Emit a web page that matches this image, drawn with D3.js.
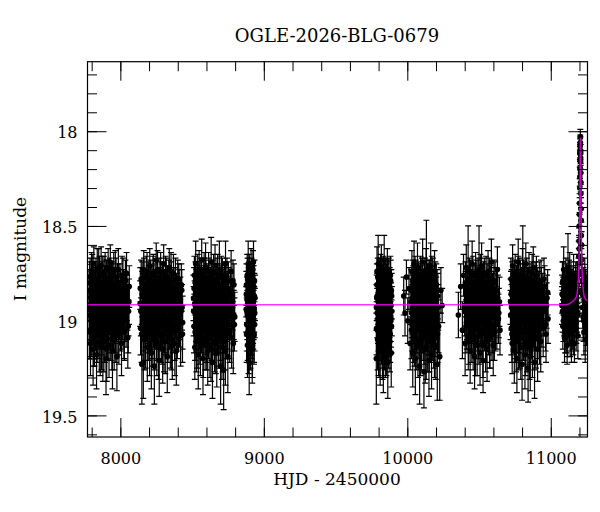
<!DOCTYPE html>
<html lang="en">
<head>
<meta charset="utf-8">
<title>OGLE-2026-BLG-0679</title>
<script src="https://d3js.org/d3.v7.min.js"></script>
<style>
    body { margin: 0; background: #fff; }
    svg text { font-family: "DejaVu Serif", serif; fill: #000; }
    .axis path { display: none; }
    .axis line { stroke: #000; }
</style>
</head>
<body>
<script>
// photometry, one array per observing season: [HJD - 2450000, I mag, error]
var season1 = [[7782,18.84,0.11],[7784,19.06,0.14],[7787,18.93,0.12],[7789,18.77,0.10],[7792,19.12,0.17],[7794,18.88,0.12],[7797,18.99,0.13],[7799,18.74,0.10],[7802,19.03,0.15],[7805,18.91,0.11],[7807,18.81,0.12],[7810,19.15,0.19],[7812,18.96,0.13],[7815,18.70,0.09],[7818,18.87,0.12],[7820,19.08,0.16],[7823,18.93,0.12],[7826,18.79,0.10],[7828,19.01,0.14],[7831,18.85,0.11],[7834,19.18,0.18],[7836,18.95,0.13],[7839,18.73,0.11],[7842,18.90,0.12],[7844,19.05,0.15],[7847,18.83,0.10],[7850,18.98,0.14],[7853,19.11,0.16],[7855,18.76,0.10],[7858,18.92,0.12],[7861,19.02,0.13],[7864,18.86,0.12],[7866,18.71,0.10],[7869,19.09,0.17],[7872,18.94,0.12],[7875,18.80,0.11],[7878,19.14,0.18],[7880,18.89,0.12],[7883,19.00,0.14],[7886,18.75,0.09],[7889,18.97,0.13],[7892,19.07,0.15],[7895,18.82,0.11],[7897,18.91,0.12],[7900,19.20,0.19],[7903,18.78,0.10],[7906,18.95,0.12],[7909,19.04,0.16],[7912,18.88,0.11],[7915,18.72,0.10],[7918,18.99,0.14],[7921,19.13,0.17],[7924,18.84,0.12],[7927,18.93,0.12],[7930,18.69,0.09],[7933,19.06,0.15],[7936,18.90,0.13],[7939,18.81,0.11],[7942,19.01,0.14],[7945,19.16,0.20],[7948,18.87,0.12],[7951,18.96,0.13],[7954,18.74,0.10],[7957,19.10,0.16],[7960,18.92,0.12],[7963,18.83,0.11],[7966,19.03,0.14],[7970,18.77,0.10],[7973,18.98,0.13],[7976,19.19,0.18],[7979,18.86,0.12],[7983,18.94,0.12],[7986,18.73,0.11],[7990,19.08,0.15],[7993,18.91,0.12],[7997,18.80,0.10],[8001,19.02,0.14],[8005,18.89,0.12],[8008,19.12,0.17],[8012,18.76,0.10],[8016,18.97,0.13],[8020,18.85,0.12],[8025,19.05,0.15],[8030,18.93,0.12],[8035,18.79,0.11],[8040,19.00,0.14],[8046,18.88,0.12],[8052,19.09,0.16],[8057,18.95,0.13],[8062,18.82,0.11],
    [7783,18.97,0.13],[7786,18.80,0.11],[7791,18.92,0.12],[7796,19.05,0.14],[7801,18.86,0.12],[7804,18.75,0.10],[7809,18.99,0.13],[7814,19.09,0.15],[7817,18.83,0.11],[7822,18.94,0.12],[7825,19.02,0.14],[7830,18.78,0.11],[7833,18.91,0.12],[7838,19.07,0.15],[7841,18.85,0.11],[7846,18.96,0.13],[7849,18.72,0.10],[7852,19.00,0.14],[7857,18.88,0.12],[7860,19.13,0.16],[7863,18.81,0.11],[7868,18.93,0.12],[7871,19.04,0.14],[7874,18.76,0.10],[7877,18.98,0.13],[7882,18.87,0.12],[7885,19.11,0.16],[7888,18.82,0.11],[7891,18.95,0.12],[7894,18.74,0.10],[7899,19.01,0.14],[7902,18.90,0.12],[7905,19.15,0.17],[7908,18.79,0.11],[7911,18.97,0.13],[7914,19.06,0.15],[7917,18.84,0.11],[7920,18.92,0.12],[7926,18.77,0.10],[7929,19.03,0.14],[7932,18.89,0.12],[7938,18.96,0.13],[7941,19.10,0.16],[7944,18.80,0.11],[7950,18.93,0.12],[7953,19.02,0.14],[7956,18.86,0.12],[7962,18.99,0.13],[7965,18.73,0.10],[7968,19.07,0.15],[7972,18.88,0.12],[7978,18.95,0.13],[7981,18.81,0.11],[7985,19.04,0.14],[7988,18.91,0.12],[7995,18.97,0.13],[7999,18.84,0.11],[8003,18.94,0.12],[8010,19.01,0.14],[8014,18.87,0.12],[8018,18.78,0.11],[8023,18.92,0.12],[8028,19.06,0.15],[8033,18.86,0.12],[8038,18.98,0.13],[8043,18.75,0.11],[8049,18.93,0.12],[8055,19.03,0.14],[8060,18.90,0.12]];
var season2 = [[8138,18.91,0.12],[8141,19.04,0.14],[8145,18.78,0.10],[8150,19.23,0.21],[8153,18.86,0.12],[8157,18.97,0.13],[8160,19.22,0.19],[8163,18.73,0.10],[8167,18.92,0.12],[8170,19.10,0.16],[8174,18.84,0.11],[8177,19.00,0.14],[8181,18.76,0.10],[8184,18.95,0.13],[8188,19.14,0.18],[8191,18.89,0.12],[8195,18.80,0.11],[8198,19.06,0.15],[8202,18.93,0.12],[8205,18.71,0.09],[8209,19.02,0.14],[8212,18.87,0.12],[8216,19.17,0.19],[8219,18.82,0.11],[8223,18.98,0.13],[8226,19.08,0.16],[8230,18.75,0.10],[8233,18.94,0.12],[8237,19.24,0.20],[8240,18.85,0.12],[8243,19.01,0.14],[8247,18.90,0.12],[8250,18.68,0.09],[8254,19.12,0.17],[8257,18.96,0.13],[8260,18.79,0.10],[8264,19.05,0.15],[8267,18.88,0.12],[8271,19.21,0.19],[8274,18.83,0.11],[8278,18.99,0.14],[8281,18.74,0.10],[8285,19.07,0.15],[8288,18.92,0.12],[8292,18.81,0.11],[8295,19.15,0.18],[8299,18.95,0.13],[8302,18.70,0.10],[8306,19.03,0.14],[8309,18.86,0.12],[8313,19.11,0.17],[8316,18.93,0.12],[8320,18.77,0.10],[8323,18.98,0.13],[8327,19.19,0.19],[8330,18.84,0.11],[8334,18.91,0.12],[8337,19.04,0.15],[8341,18.72,0.10],[8344,18.97,0.13],[8348,19.09,0.16],[8351,18.89,0.12],[8355,18.80,0.11],[8358,19.00,0.14],[8362,19.13,0.18],[8366,18.87,0.12],[8370,18.75,0.10],[8374,18.94,0.12],[8378,19.06,0.15],[8382,18.83,0.11],[8386,18.96,0.13],[8390,19.16,0.18],[8395,18.90,0.12],[8400,18.78,0.10],[8405,19.02,0.14],[8410,18.85,0.12],[8415,18.97,0.13],[8420,19.08,0.16],[8425,18.81,0.11],[8430,18.93,0.12],[8434,19.01,0.14],
    [8139,18.83,0.11],[8143,18.95,0.13],[8148,19.07,0.15],[8152,18.80,0.11],[8155,18.93,0.12],[8159,18.87,0.12],[8162,19.02,0.14],[8165,18.77,0.10],[8169,18.98,0.13],[8172,18.90,0.12],[8176,19.09,0.16],[8179,18.85,0.11],[8183,18.96,0.13],[8186,18.74,0.10],[8190,19.03,0.14],[8193,18.92,0.12],[8197,18.82,0.11],[8200,18.99,0.13],[8204,19.12,0.17],[8207,18.88,0.12],[8211,18.79,0.11],[8214,18.94,0.12],[8218,19.05,0.15],[8221,18.86,0.12],[8225,18.91,0.12],[8228,18.76,0.10],[8232,19.00,0.14],[8235,18.89,0.12],[8239,19.10,0.16],[8242,18.81,0.11],[8245,18.97,0.13],[8249,18.84,0.11],[8252,19.06,0.15],[8256,18.93,0.12],[8259,18.73,0.10],[8262,18.98,0.13],[8266,19.14,0.17],[8269,18.87,0.12],[8273,18.95,0.13],[8276,18.78,0.11],[8280,19.02,0.14],[8283,18.90,0.12],[8287,18.84,0.11],[8290,19.08,0.15],[8294,18.92,0.12],[8297,18.80,0.11],[8301,18.97,0.13],[8304,19.11,0.16],[8308,18.85,0.12],[8311,18.94,0.12],[8315,18.76,0.10],[8318,19.04,0.14],[8322,18.89,0.12],[8325,18.99,0.13],[8329,18.82,0.11],[8332,19.07,0.15],[8336,18.93,0.12],[8339,18.79,0.11],[8343,19.01,0.14],[8346,18.88,0.12],[8350,18.96,0.13],[8353,18.74,0.10],[8357,19.10,0.16],[8360,18.86,0.12],[8364,18.95,0.13],[8368,19.03,0.14],[8372,18.83,0.11],[8376,18.91,0.12],[8380,19.12,0.17],[8384,18.78,0.11],[8388,18.97,0.13],[8392,18.87,0.12],[8397,19.05,0.15],[8402,18.92,0.12],[8407,18.81,0.11],[8412,19.00,0.14],[8418,18.89,0.12],[8423,18.95,0.13],[8428,18.84,0.11],[8433,19.07,0.15]];
var season3 = [[8510,18.88,0.12],[8513,19.03,0.14],[8516,18.76,0.10],[8519,19.14,0.17],[8522,18.92,0.12],[8525,18.70,0.12],[8528,18.98,0.13],[8531,18.84,0.11],[8534,19.09,0.16],[8537,18.79,0.10],[8540,18.95,0.13],[8543,19.18,0.18],[8546,18.87,0.12],[8549,18.73,0.10],[8552,19.01,0.14],[8555,18.90,0.12],[8558,19.12,0.17],[8561,18.82,0.11],[8564,18.96,0.13],[8567,18.68,0.11],[8570,19.05,0.15],[8573,18.86,0.12],[8576,19.20,0.19],[8579,18.93,0.12],[8582,18.77,0.10],[8585,19.00,0.14],[8588,18.85,0.11],[8591,19.10,0.16],[8594,18.72,0.13],[8597,18.94,0.12],[8600,19.07,0.15],[8603,18.81,0.11],[8606,18.99,0.13],[8609,19.16,0.18],[8612,18.89,0.12],[8615,18.74,0.10],[8618,19.02,0.14],[8621,18.91,0.12],[8624,19.13,0.17],[8627,18.83,0.11],[8630,18.97,0.13],[8633,18.69,0.13],[8636,19.06,0.15],[8639,18.87,0.12],[8642,19.22,0.19],[8645,18.78,0.10],[8648,18.95,0.13],[8651,19.04,0.14],[8654,18.84,0.11],[8657,19.11,0.16],[8660,18.71,0.11],[8663,18.93,0.12],[8666,19.01,0.14],[8669,18.80,0.10],[8672,19.17,0.18],[8675,18.90,0.12],[8678,18.75,0.10],[8681,18.98,0.13],[8684,19.08,0.16],[8687,18.86,0.12],[8690,18.73,0.15],[8693,19.03,0.14],[8696,18.92,0.12],[8699,19.24,0.20],[8702,18.82,0.11],[8705,18.96,0.13],[8708,19.14,0.17],[8711,18.77,0.10],[8714,19.00,0.14],[8717,18.88,0.12],[8720,19.26,0.21],[8723,18.83,0.11],[8726,18.95,0.13],[8730,19.10,0.16],[8733,18.70,0.12],[8737,18.91,0.12],[8741,19.05,0.15],[8745,18.85,0.11],[8749,19.19,0.19],[8753,18.79,0.10],[8757,18.97,0.13],[8762,19.07,0.15],[8767,18.87,0.12],[8772,18.74,0.11],[8777,19.02,0.14],[8782,18.93,0.12],[8787,19.12,0.16],[8792,18.81,0.11],[8797,18.98,0.13],
    [8511,18.95,0.13],[8514,18.83,0.11],[8518,18.91,0.12],[8521,19.06,0.15],[8524,18.80,0.11],[8527,18.93,0.12],[8530,19.11,0.16],[8533,18.87,0.12],[8536,18.97,0.13],[8539,18.75,0.10],[8542,19.02,0.14],[8545,18.89,0.12],[8548,18.81,0.11],[8551,18.95,0.13],[8554,19.08,0.15],[8557,18.85,0.12],[8560,18.92,0.12],[8563,18.78,0.11],[8566,19.03,0.14],[8569,18.90,0.12],[8572,18.98,0.13],[8575,18.83,0.11],[8578,19.13,0.17],[8581,18.88,0.12],[8584,18.74,0.10],[8587,18.96,0.13],[8590,19.04,0.14],[8593,18.86,0.12],[8596,18.79,0.11],[8599,18.99,0.13],[8602,19.10,0.16],[8605,18.91,0.12],[8608,18.82,0.11],[8611,18.94,0.12],[8614,19.05,0.15],[8617,18.77,0.10],[8620,18.97,0.13],[8623,18.88,0.12],[8626,19.00,0.14],[8629,18.84,0.11],[8632,19.15,0.17],[8635,18.93,0.12],[8638,18.80,0.11],[8641,18.96,0.13],[8644,19.07,0.15],[8647,18.87,0.12],[8650,18.75,0.10],[8653,18.92,0.12],[8656,19.02,0.14],[8659,18.85,0.12],[8662,18.98,0.13],[8665,19.12,0.16],[8668,18.83,0.11],[8671,18.94,0.12],[8674,18.78,0.11],[8677,19.04,0.14],[8680,18.90,0.12],[8683,18.97,0.13],[8686,19.09,0.16],[8689,18.81,0.11],[8692,18.95,0.13],[8695,18.86,0.12],[8698,19.06,0.15],[8701,18.92,0.12],[8704,18.76,0.10],[8707,18.99,0.13],[8710,18.89,0.12],[8713,19.11,0.16],[8716,18.84,0.11],[8719,18.96,0.13],[8722,19.03,0.14],[8725,18.80,0.11],[8728,18.93,0.12],[8732,19.16,0.18],[8735,18.87,0.12],[8739,18.98,0.13],[8743,18.77,0.10],[8747,19.01,0.14],[8751,18.91,0.12],[8755,18.83,0.11],[8760,19.05,0.15],[8765,18.94,0.12],[8770,18.86,0.12],[8775,19.09,0.16],[8780,18.90,0.12],[8785,18.79,0.11],[8790,18.97,0.13],[8795,19.02,0.14]];
var season4 = [[8878,18.86,0.12],[8880,19.07,0.15],[8882,18.95,0.13],[8884,18.76,0.11],[8886,19.13,0.17],[8889,18.91,0.12],[8891,18.70,0.12],[8893,19.02,0.14],[8896,18.84,0.11],[8898,19.22,0.17],[8900,18.97,0.13],[8903,18.80,0.11],[8905,19.10,0.16],[8908,18.89,0.12],[8911,18.74,0.12],[8913,19.04,0.14],[8916,18.93,0.12],[8919,19.15,0.18],[8922,18.82,0.11],[8925,18.99,0.13],[8928,18.69,0.11],[8931,19.08,0.15],[8934,18.87,0.12],[8937,18.96,0.13],
    [8877,18.94,0.12],[8879,18.81,0.11],[8881,19.02,0.14],[8883,18.89,0.12],[8885,18.97,0.13],[8887,18.78,0.11],[8888,19.06,0.15],[8890,18.86,0.12],[8892,18.95,0.13],[8894,19.12,0.16],[8895,18.83,0.11],[8897,18.92,0.12],[8899,18.75,0.10],[8901,19.03,0.14],[8902,18.88,0.12],[8904,18.98,0.13],[8906,18.80,0.11],[8907,19.09,0.16],[8909,18.93,0.12],[8910,18.85,0.12],[8912,19.00,0.14],[8914,18.77,0.10],[8915,18.96,0.13],[8917,19.05,0.15],[8918,18.84,0.11],[8920,18.91,0.12],[8921,19.13,0.17],[8923,18.87,0.12],[8924,18.73,0.10],[8926,19.01,0.14],[8927,18.90,0.12],[8929,18.97,0.13],[8930,18.82,0.11],[8932,19.07,0.15],[8933,18.94,0.12],[8935,18.79,0.11],[8936,19.02,0.14],[8938,18.88,0.12]];
var season5 = [[9784,19.20,0.24],[9787,18.88,0.12],[9789,18.74,0.13],[9792,19.05,0.15],[9795,18.93,0.12],[9797,18.70,0.15],[9800,19.12,0.17],[9803,18.84,0.11],[9806,18.99,0.13],[9808,18.78,0.11],[9811,19.16,0.18],[9814,18.91,0.12],[9817,19.03,0.14],[9819,18.72,0.12],[9822,18.86,0.12],[9825,19.09,0.16],[9828,18.95,0.13],[9830,18.81,0.11],[9833,19.19,0.19],[9836,18.89,0.12],[9839,18.68,0.13],[9841,19.01,0.14],[9844,18.92,0.12],[9847,19.13,0.17],[9850,18.79,0.11],[9853,18.97,0.13],[9856,19.07,0.15],[9858,18.85,0.12],[9861,18.73,0.11],[9864,19.22,0.19],[9867,18.94,0.12],[9870,18.83,0.11],[9873,19.04,0.15],[9876,18.90,0.12],[9879,19.11,0.16],[9882,18.76,0.10],[9885,18.98,0.13],[9888,19.17,0.18],[9891,18.87,0.12],
    [9785,18.93,0.12],[9786,19.04,0.14],[9788,18.81,0.11],[9790,18.96,0.13],[9791,18.87,0.12],[9793,19.10,0.16],[9794,18.77,0.10],[9796,18.99,0.13],[9798,18.90,0.12],[9799,19.02,0.14],[9801,18.84,0.11],[9802,18.95,0.13],[9804,19.13,0.17],[9805,18.79,0.11],[9807,18.92,0.12],[9809,19.06,0.15],[9810,18.86,0.12],[9812,18.97,0.13],[9813,18.75,0.10],[9815,19.00,0.14],[9816,18.89,0.12],[9818,18.82,0.11],[9820,19.08,0.15],[9821,18.94,0.12],[9823,18.80,0.11],[9824,18.98,0.13],[9826,18.88,0.12],[9827,19.14,0.17],[9829,18.91,0.12],[9831,19.01,0.14],[9832,18.85,0.12],[9834,18.76,0.10],[9835,18.96,0.13],[9837,19.05,0.15],[9838,18.83,0.11],[9840,18.93,0.12],[9842,19.10,0.16],[9843,18.87,0.12],[9845,18.78,0.11],[9846,18.99,0.13],[9848,18.90,0.12],[9849,19.03,0.14],[9851,18.84,0.11],[9852,18.95,0.13],[9854,19.12,0.17],[9855,18.81,0.11],[9857,18.92,0.12],[9859,19.06,0.15],[9860,18.88,0.12],[9862,18.97,0.13],[9863,18.80,0.11],[9865,19.01,0.14],[9866,18.86,0.12],[9868,19.09,0.16],[9869,18.94,0.12],[9871,18.77,0.10],[9872,18.98,0.13],[9874,18.89,0.12],[9875,19.04,0.14],[9877,18.83,0.11],[9878,18.96,0.13],[9880,18.91,0.12],[9881,19.07,0.15],[9883,18.85,0.12],[9884,18.79,0.11],[9886,19.00,0.14],[9887,18.92,0.12],[9889,18.84,0.11],[9890,19.03,0.14],[9892,18.95,0.13]];
var season6 = [[9975,18.87,0.10],[9984,18.96,0.12],[9994,18.77,0.09],[10003,19.00,0.12],[10012,18.83,0.11],[10020,19.12,0.14],[10026,18.90,0.12],[10029,19.05,0.15],[10032,18.74,0.11],[10035,18.94,0.13],[10038,19.17,0.18],[10041,18.82,0.11],[10044,18.99,0.13],[10047,18.70,0.12],[10050,19.08,0.16],[10053,18.88,0.12],[10056,19.20,0.19],[10059,18.79,0.11],[10062,18.96,0.13],[10065,19.03,0.14],[10068,18.85,0.12],[10071,18.72,0.13],[10074,19.13,0.17],[10077,18.92,0.12],[10080,18.81,0.11],[10083,19.01,0.14],[10086,19.24,0.20],[10089,18.87,0.12],[10092,18.76,0.10],[10095,18.97,0.13],[10098,19.10,0.16],[10101,18.84,0.11],[10104,18.93,0.12],[10107,18.69,0.12],[10110,19.06,0.15],[10113,18.89,0.12],[10116,19.27,0.19],[10119,18.80,0.11],[10122,18.95,0.13],[10125,19.15,0.18],[10128,18.86,0.12],[10131,18.73,0.11],[10133,18.75,0.28],[10136,19.02,0.14],[10139,18.91,0.12],[10142,19.11,0.16],[10145,18.78,0.10],[10148,18.98,0.13],[10151,19.21,0.19],[10154,18.83,0.11],[10157,18.94,0.12],[10160,19.07,0.15],[10163,18.71,0.12],[10166,18.90,0.12],[10169,19.18,0.18],[10172,18.85,0.11],[10175,19.00,0.14],[10178,18.77,0.10],[10181,18.96,0.13],[10184,19.09,0.16],[10187,18.88,0.12],[10190,18.74,0.11],[10193,19.04,0.15],[10196,18.92,0.12],[10199,19.14,0.17],[10202,18.81,0.11],[10205,18.97,0.13],[10209,19.23,0.19],[10213,18.87,0.12],[10218,19.03,0.14],[10226,19.19,0.23],[10234,18.84,0.12],[10243,18.92,0.09],
    [10027,18.84,0.11],[10030,18.96,0.13],[10033,19.02,0.14],[10036,18.88,0.12],[10039,18.79,0.11],[10042,18.93,0.12],[10045,19.07,0.15],[10048,18.86,0.12],[10051,18.97,0.13],[10054,18.76,0.10],[10057,19.01,0.14],[10060,18.91,0.12],[10063,18.83,0.11],[10066,19.10,0.16],[10069,18.94,0.12],[10072,18.87,0.12],[10075,18.99,0.13],[10078,18.80,0.11],[10081,19.05,0.15],[10084,18.92,0.12],[10087,18.85,0.12],[10090,18.98,0.13],[10093,19.12,0.17],[10096,18.82,0.11],[10099,18.95,0.13],[10102,18.78,0.11],[10105,19.03,0.14],[10108,18.89,0.12],[10111,18.96,0.13],[10114,18.84,0.11],[10117,19.08,0.15],[10120,18.93,0.12],[10123,18.77,0.10],[10126,19.00,0.14],[10129,18.90,0.12],[10132,19.14,0.17],[10135,18.86,0.12],[10138,18.97,0.13],[10141,18.81,0.11],[10144,19.04,0.14],[10147,18.92,0.12],[10150,18.88,0.12],[10153,19.11,0.16],[10156,18.79,0.11],[10159,18.98,0.13],[10162,18.85,0.12],[10165,19.02,0.14],[10168,18.94,0.12],[10171,18.76,0.10],[10174,18.91,0.12],[10177,19.06,0.15],[10180,18.87,0.12],[10183,18.99,0.13],[10186,18.82,0.11],[10189,19.13,0.17],[10192,18.95,0.13],[10195,18.80,0.11],[10198,19.01,0.14],[10201,18.89,0.12],[10204,18.96,0.13],[10207,18.84,0.11],[10211,19.07,0.15],[10215,18.93,0.12]];
var season7 = [[10356,18.97,0.12],[10372,18.82,0.12],[10384,19.05,0.15],[10392,18.76,0.11],[10398,18.93,0.12],[10403,19.12,0.17],[10407,18.86,0.12],[10411,18.72,0.12],[10415,19.01,0.14],[10419,18.90,0.12],[10424,18.74,0.24],[10427,19.08,0.15],[10431,18.84,0.11],[10434,18.97,0.13],[10438,19.16,0.17],[10441,18.79,0.11],[10445,18.94,0.12],[10448,19.03,0.14],[10452,18.70,0.12],[10455,18.88,0.12],[10459,19.10,0.16],[10462,18.95,0.13],[10466,18.81,0.11],[10469,19.19,0.17],[10473,18.91,0.12],[10476,18.75,0.11],[10480,19.00,0.14],[10483,18.86,0.12],[10487,19.13,0.16],[10490,18.92,0.12],[10494,18.77,0.10],[10497,19.05,0.15],[10500,18.73,0.23],[10504,18.96,0.13],[10507,19.17,0.17],[10511,18.83,0.11],[10514,18.99,0.13],[10518,18.71,0.12],[10521,19.07,0.15],[10525,18.89,0.12],[10528,19.21,0.17],[10532,18.80,0.11],[10535,18.94,0.12],[10539,19.02,0.14],[10542,18.85,0.11],[10546,19.11,0.16],[10549,18.76,0.10],[10553,18.97,0.13],[10556,19.15,0.17],[10560,18.88,0.12],[10563,18.74,0.11],[10567,19.04,0.14],[10570,18.91,0.12],[10574,19.09,0.16],[10578,18.82,0.11],[10582,18.98,0.13],[10586,18.69,0.12],[10590,19.06,0.15],[10594,18.87,0.12],[10599,19.13,0.16],[10604,18.79,0.11],[10609,18.95,0.13],[10615,19.02,0.14],[10621,18.84,0.12],[10628,18.73,0.12],[10635,18.99,0.13],[10642,18.90,0.13],[10646,19.05,0.13],
    [10400,18.95,0.13],[10405,18.80,0.11],[10409,19.03,0.14],[10413,18.89,0.12],[10417,18.97,0.13],[10421,18.83,0.11],[10425,19.10,0.16],[10429,18.92,0.12],[10433,18.78,0.11],[10436,19.01,0.14],[10440,18.87,0.12],[10443,18.99,0.13],[10447,18.84,0.11],[10450,19.07,0.15],[10454,18.94,0.12],[10457,18.76,0.10],[10461,18.90,0.12],[10464,19.04,0.14],[10468,18.86,0.12],[10471,18.97,0.13],[10475,19.12,0.17],[10478,18.82,0.11],[10482,18.93,0.12],[10485,18.79,0.11],[10489,19.02,0.14],[10492,18.88,0.12],[10496,18.96,0.13],[10499,19.08,0.15],[10502,18.85,0.12],[10506,18.92,0.12],[10509,18.75,0.10],[10513,19.05,0.15],[10516,18.90,0.12],[10520,18.98,0.13],[10523,18.83,0.11],[10527,19.13,0.17],[10530,18.94,0.12],[10534,18.87,0.12],[10537,18.77,0.10],[10541,19.00,0.14],[10544,18.91,0.12],[10548,18.96,0.13],[10551,19.07,0.15],[10555,18.81,0.11],[10558,18.93,0.12],[10562,19.02,0.14],[10565,18.86,0.12],[10569,18.97,0.13],[10572,18.78,0.11],[10576,19.09,0.16],[10580,18.89,0.12],[10584,18.95,0.13],[10588,18.83,0.11],[10592,19.03,0.14],[10597,18.92,0.12],[10602,18.86,0.12],[10607,19.06,0.15],[10612,18.80,0.11],[10618,18.94,0.12],[10624,19.01,0.14],[10631,18.88,0.12],[10638,18.96,0.13]];
var season8 = [[10719,18.90,0.12],[10722,18.78,0.11],[10725,19.04,0.14],[10728,18.85,0.12],[10731,19.12,0.16],[10734,18.71,0.11],[10737,18.95,0.13],[10740,19.01,0.14],[10743,18.82,0.11],[10746,19.16,0.17],[10749,18.92,0.12],[10752,18.75,0.10],[10755,19.07,0.15],[10758,18.87,0.12],[10761,18.98,0.13],[10764,19.20,0.18],[10767,18.80,0.11],[10770,18.93,0.12],[10773,18.69,0.12],[10776,19.10,0.16],[10779,18.86,0.12],[10782,19.03,0.14],[10785,18.77,0.10],[10788,18.96,0.13],[10791,19.14,0.17],[10794,18.84,0.11],[10797,18.91,0.12],[10800,19.23,0.19],[10803,18.73,0.11],[10805,18.76,0.26],[10808,18.99,0.13],[10811,19.06,0.15],[10814,18.88,0.12],[10817,18.81,0.11],[10820,19.18,0.18],[10823,18.94,0.12],[10826,18.70,0.11],[10829,19.02,0.14],[10832,18.89,0.12],[10835,19.11,0.16],[10838,18.83,0.11],[10842,19.25,0.18],[10845,18.97,0.13],[10848,18.74,0.10],[10851,19.08,0.15],[10854,18.90,0.12],[10857,19.19,0.18],[10860,18.85,0.11],[10863,18.95,0.13],[10866,19.05,0.14],[10869,18.79,0.10],[10872,19.13,0.17],[10875,18.92,0.12],[10878,18.72,0.11],[10881,19.00,0.14],[10884,18.87,0.12],[10887,19.22,0.19],[10890,18.82,0.11],[10893,18.96,0.13],[10896,19.09,0.16],[10900,18.76,0.10],[10904,18.93,0.12],[10908,19.15,0.17],[10912,18.86,0.12],[10916,19.02,0.14],[10920,18.80,0.11],[10925,18.97,0.13],[10930,19.11,0.16],[10935,18.84,0.12],[10941,18.91,0.12],[10947,19.04,0.15],[10953,18.78,0.11],[10960,18.94,0.13],[10967,19.07,0.15],[10974,18.88,0.12],[10981,18.99,0.13],
    [10720,18.97,0.13],[10723,18.86,0.12],[10726,18.93,0.12],[10729,19.07,0.15],[10732,18.80,0.11],[10735,18.91,0.12],[10738,19.02,0.14],[10741,18.88,0.12],[10744,18.96,0.13],[10747,18.78,0.10],[10750,19.05,0.15],[10753,18.85,0.12],[10756,18.94,0.12],[10759,19.11,0.16],[10762,18.82,0.11],[10765,18.99,0.13],[10768,18.89,0.12],[10771,19.03,0.14],[10774,18.76,0.10],[10777,18.95,0.13],[10780,18.87,0.12],[10783,19.09,0.16],[10786,18.92,0.12],[10789,18.81,0.11],[10792,19.00,0.14],[10795,18.90,0.12],[10798,18.97,0.13],[10801,18.84,0.11],[10806,19.06,0.15],[10809,18.93,0.12],[10812,18.79,0.11],[10815,19.01,0.14],[10818,18.88,0.12],[10821,18.96,0.13],[10824,19.12,0.17],[10827,18.86,0.12],[10830,18.94,0.12],[10833,18.77,0.10],[10836,19.04,0.14],[10840,18.91,0.12],[10843,18.83,0.11],[10846,19.00,0.14],[10849,18.89,0.12],[10852,19.14,0.17],[10855,18.81,0.11],[10858,18.95,0.13],[10861,19.07,0.15],[10864,18.87,0.12],[10867,18.93,0.12],[10870,18.75,0.10],[10873,19.02,0.14],[10876,18.90,0.12],[10879,18.98,0.13],[10882,18.84,0.11],[10885,19.10,0.16],[10888,18.92,0.12],[10891,18.80,0.11],[10894,19.01,0.14],[10898,18.88,0.12],[10902,18.97,0.13],[10906,18.83,0.11],[10910,19.05,0.15],[10914,18.93,0.12],[10918,18.86,0.12],[10922,19.08,0.15],[10927,18.90,0.12],[10932,18.79,0.11],[10938,19.00,0.14],[10944,18.87,0.12],[10950,18.95,0.13],[10957,18.82,0.11],[10964,19.02,0.14],[10971,18.92,0.12],[10978,18.85,0.12]];
var season9 = [[11078,18.92,0.10],[11081,18.80,0.11],[11084,19.03,0.12],[11087,18.87,0.10],[11090,18.73,0.12],[11093,18.97,0.11],[11096,19.09,0.13],[11099,18.84,0.10],[11102,18.93,0.11],[11105,18.77,0.10],[11108,19.05,0.12],[11111,18.89,0.10],[11114,19.13,0.10],[11117,18.82,0.11],[11120,18.72,0.18],[11123,18.95,0.11],[11126,19.01,0.12],[11129,18.86,0.10],[11132,18.75,0.11],[11135,19.07,0.12],[11138,18.91,0.10],[11141,18.80,0.11],[11144,19.11,0.11],[11147,18.94,0.11],[11150,18.84,0.10],[11153,19.03,0.12],[11156,18.88,0.10],[11159,18.76,0.11],[11162,18.98,0.11],[11165,19.12,0.10],[11168,18.85,0.10],[11171,18.92,0.11],[11174,18.79,0.10],[11177,19.04,0.12],[11180,18.86,0.10],[11183,18.95,0.11],[11186,18.81,0.10],[11189,19.08,0.12],[11191,18.84,0.09],[11193,18.76,0.09],[11195,18.66,0.08],[11196,18.70,0.08],[11197,18.58,0.07],[11198,18.62,0.07],[11199,18.50,0.06],[11200,18.44,0.06],[11201,18.38,0.05],[11202,18.30,0.05],[11202.5,18.24,0.05],[11203,18.20,0.05],[11203.5,18.15,0.04],[11204,18.12,0.04],[11204.5,18.08,0.04],[11205,18.10,0.04],[11205.5,18.06,0.04],[11206,18.03,0.04],[11206.5,18.07,0.04],[11207,18.11,0.04],[11207.5,18.16,0.04],[11208,18.14,0.04],[11208.5,18.22,0.05],[11209,18.27,0.05],[11210,18.33,0.05],[11211,18.41,0.06],[11212,18.47,0.06],[11213,18.55,0.07],[11214,18.60,0.07],[11215,18.68,0.08],[11217,18.74,0.09],[11219,18.79,0.09],[11222,18.86,0.10],[11225,18.98,0.11],[11228,18.82,0.10],[11231,19.06,0.12],[11234,18.90,0.10],[11237,18.78,0.11],[11240,19.10,0.12],[11243,18.93,0.10],[11246,18.85,0.11],[11249,19.02,0.11],[11252,18.89,0.10],
    [11079,18.86,0.10],[11082,18.95,0.11],[11085,18.79,0.10],[11088,19.00,0.11],[11091,18.90,0.10],[11094,18.83,0.10],[11097,18.96,0.11],[11100,19.05,0.12],[11103,18.87,0.10],[11106,18.93,0.11],[11109,18.80,0.10],[11112,18.98,0.11],[11115,18.89,0.10],[11118,19.07,0.12],[11121,18.84,0.10],[11124,18.92,0.11],[11127,18.78,0.10],[11130,19.02,0.11],[11133,18.88,0.10],[11136,18.96,0.11],[11139,18.83,0.10],[11142,19.04,0.12],[11145,18.90,0.10],[11148,18.81,0.10],[11151,18.97,0.11],[11154,18.86,0.10],[11157,19.06,0.12],[11160,18.91,0.10],[11163,18.84,0.10],[11166,19.00,0.11],[11169,18.89,0.10],[11172,18.95,0.11],[11175,18.82,0.10],[11178,19.01,0.11],[11181,18.88,0.10],[11184,18.93,0.11],[11187,18.85,0.10],[11190,18.97,0.11],[11223,18.93,0.11],[11226,18.84,0.10],[11229,19.00,0.11],[11232,18.87,0.10],[11235,18.96,0.11],[11238,18.91,0.10],[11241,18.83,0.10],[11244,19.04,0.12],[11247,18.90,0.10],[11250,18.95,0.11],[11253,18.86,0.10]];

// model light curve
var modelHjd = [7771, 11100, 11130, 11157, 11172, 11181, 11187, 11192, 11196, 11199, 11202, 11204, 11205.5, 11206.5, 11207.5, 11209, 11211, 11214, 11217, 11221, 11226, 11232, 11241, 11256];
var modelMag = [18.916, 18.916, 18.910, 18.895, 18.883, 18.868, 18.835, 18.78, 18.70, 18.58, 18.40, 18.22, 18.10, 18.035, 18.10, 18.22, 18.40, 18.58, 18.70, 18.78, 18.835, 18.868, 18.885, 18.895];

var xTicks = [8000, 9000, 10000, 11000];
var yTicks = [18, 18.5, 19, 19.5];

var margin = {top: 61.7, right: 12.5, bottom: 75, left: 87.5};
var w = 600 - margin.left - margin.right;
var h = 512 - margin.top - margin.bottom;

var svg = d3.select("body")
    .append("svg")
    .attr("width", 600)
    .attr("height", 512);

var g = svg.append("g")
    .attr("transform", "translate(" + margin.left + "," + margin.top + ")");

var x = d3.scaleLinear().domain([7771, 11256]).range([0, w]);
var y = d3.scaleLinear().domain([17.633, 19.614]).range([0, h]);

g.append("clipPath").attr("id", "plotclip")
    .append("rect").attr("width", w).attr("height", h);

var obs = [].concat(season1, season2, season3, season4, season5, season6, season7, season8, season9);
var pts = g.append("g").attr("clip-path", "url(#plotclip)");

// error bars
pts.selectAll("path.err")
    .data(obs)
    .enter()
    .append("path")
    .attr("class", "err")
    .attr("fill", "none")
    .attr("stroke", "#000")
    .attr("stroke-width", 1.2)
    .attr("d", function (d) {
        var cx = x(d[0]), y0 = y(d[1] - d[2]), y1 = y(d[1] + d[2]);
        return "M" + cx + "," + y0 + "V" + y1 +
            "M" + (cx - 3) + "," + y0 + "H" + (cx + 3) +
            "M" + (cx - 3) + "," + y1 + "H" + (cx + 3);
    });

// points
pts.selectAll("circle")
    .data(obs)
    .enter()
    .append("circle")
    .attr("cx", function (d) { return x(d[0]); })
    .attr("cy", function (d) { return y(d[1]); })
    .attr("r", 2.8)
    .attr("fill", "#000");

// model
var line = d3.line()
    .x(function (d) { return x(d[0]); })
    .y(function (d) { return y(d[1]); })
    .curve(d3.curveMonotoneX);

pts.append("path")
    .datum(modelHjd.map(function (t, i) { return [t, modelMag[i]]; }))
    .attr("fill", "none")
    .attr("stroke", "#ff00ff")
    .attr("stroke-opacity", 0.8)
    .attr("stroke-width", 1.4)
    .attr("d", line);

// ticks on all four sides, pointing in
var xMinor = d3.range(7800, 11256, 200);
var yMinor = d3.range(177, 197).map(function (d) { return d / 10; });

g.append("g").attr("class", "axis")
    .attr("transform", "translate(0," + h + ")")
    .call(d3.axisBottom(x).tickValues(xMinor).tickSize(-9.5).tickFormat(""));
var xAxis = g.append("g").attr("class", "axis")
    .attr("transform", "translate(0," + h + ")")
    .call(d3.axisBottom(x).tickValues(xTicks).tickSize(-19).tickFormat(d3.format("d")));
xAxis.selectAll("text")
    .attr("y", 27)
    .attr("dy", null)
    .style("font-size", "16px");

g.append("g").attr("class", "axis")
    .call(d3.axisTop(x).tickValues(xMinor).tickSize(-9.5).tickFormat(""));
g.append("g").attr("class", "axis")
    .call(d3.axisTop(x).tickValues(xTicks).tickSize(-19).tickFormat(""));

g.append("g").attr("class", "axis")
    .call(d3.axisLeft(y).tickValues(yMinor).tickSize(-9.5).tickFormat(""));
var yAxis = g.append("g").attr("class", "axis")
    .call(d3.axisLeft(y).tickValues(yTicks).tickSize(-19).tickFormat(function (d) { return d; }));
yAxis.selectAll("text")
    .attr("x", -10)
    .attr("dy", "0.42em")
    .style("font-size", "16px");

g.append("g").attr("class", "axis")
    .attr("transform", "translate(" + w + ",0)")
    .call(d3.axisRight(y).tickValues(yMinor).tickSize(-9.5).tickFormat(""));
g.append("g").attr("class", "axis")
    .attr("transform", "translate(" + w + ",0)")
    .call(d3.axisRight(y).tickValues(yTicks).tickSize(-19).tickFormat(""));

// frame
g.append("rect")
    .attr("width", w)
    .attr("height", h)
    .attr("fill", "none")
    .attr("stroke", "#000")
    .attr("stroke-width", 1.2);

// title and axis names
svg.append("text")
    .attr("x", 337)
    .attr("y", 41.7)
    .style("text-anchor", "middle")
    .style("font-size", "18px")
    .text("OGLE-2026-BLG-0679");

svg.append("text")
    .attr("x", 337)
    .attr("y", 485)
    .style("text-anchor", "middle")
    .style("font-size", "17px")
    .text("HJD - 2450000");

svg.append("text")
    .attr("transform", "translate(26,249) rotate(-90)")
    .style("text-anchor", "middle")
    .style("font-size", "17px")
    .text("I magnitude");
</script>
</body>
</html>
